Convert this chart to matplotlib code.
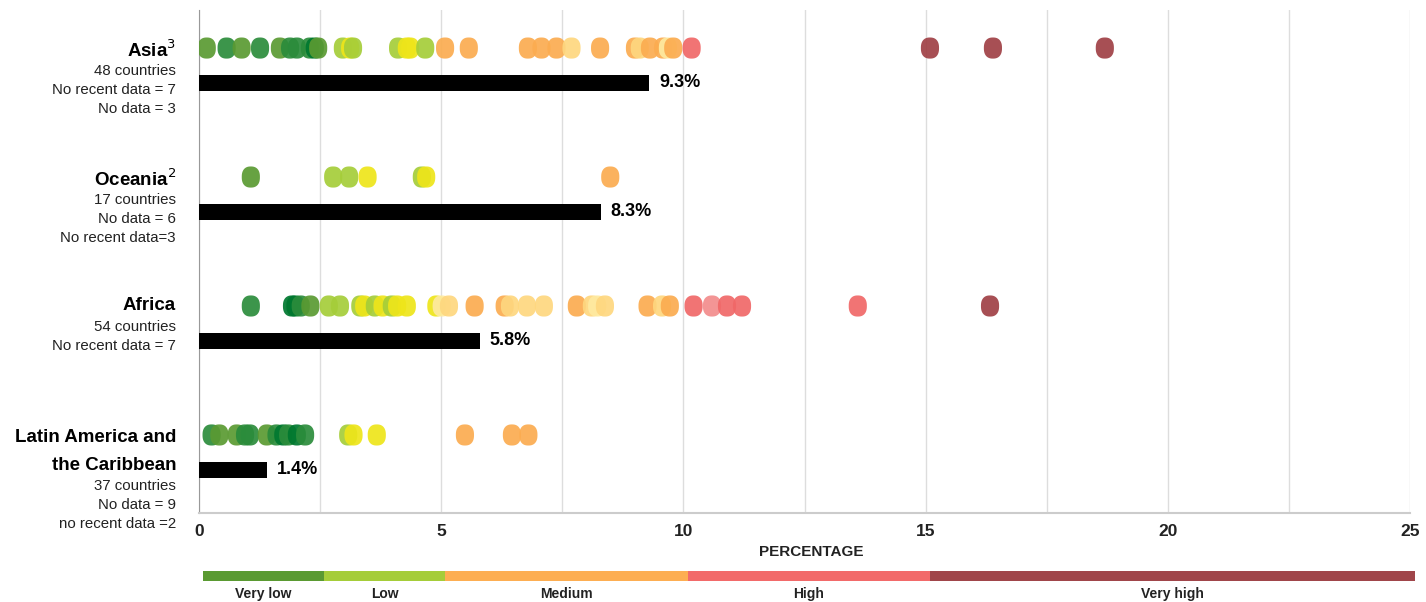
import numpy as np
import matplotlib
matplotlib.use("Agg")
import matplotlib.pyplot as plt
from matplotlib.path import Path

plt.rcParams['font.family'] = ['Liberation Sans', 'DejaVu Sans']

# Kleuren per klasse
kleur = {
    'olive': '#5a9a32', 'forest': '#2b8c3b', 'dkgreen': '#00782f',
    'lgreen': '#a5cd39', 'yellow': '#eee51a', 'orange': '#fbac50',
    'lorange': '#fed77f', 'pale': '#feeaa0', 'red': '#f06868',
    'pink': '#f28c8c', 'dred': '#a04045',
}

regios = ['Asia', 'Oceania', 'Africa', 'Latin America']
gemiddelde = [9.3, 8.3, 5.8, 1.4]

asia_val = [0.16, 0.57, 0.88, 1.26, 1.67, 1.88, 2.02, 2.29, 2.39, 2.46, 2.97, 3.12, 3.18,
            4.11, 4.29, 4.36, 4.67, 5.08, 5.57, 6.79, 7.07, 7.38, 7.69, 8.28, 9.0, 9.1,
            9.31, 9.58, 9.68, 9.79, 10.17, 15.09, 16.39, 18.70]
asia_kl = ['olive', 'forest', 'olive', 'forest', 'olive', 'forest', 'forest', 'forest', 'dkgreen',
           'olive', 'lgreen', 'yellow', 'lgreen', 'lgreen', 'yellow', 'yellow', 'lgreen',
           'orange', 'orange', 'orange', 'orange', 'orange', 'lorange', 'orange', 'orange',
           'lorange', 'orange', 'orange', 'pale', 'orange', 'red', 'dred', 'dred', 'dred']

oceania_val = [1.07, 2.77, 3.10, 3.48, 4.60, 4.69, 8.49]
oceania_kl = ['olive', 'lgreen', 'lgreen', 'yellow', 'lgreen', 'yellow', 'orange']

africa_val = [1.07, 1.92, 1.99, 2.10, 2.30, 2.68, 2.91, 3.33, 3.41, 3.63, 3.79, 3.98, 4.09,
              4.29, 4.90, 5.01, 5.16, 5.69, 6.31, 6.42, 6.77, 7.12, 7.80, 8.11, 8.22, 8.38,
              9.26, 9.56, 9.72, 10.21, 10.59, 10.90, 11.21, 13.6, 16.33]
africa_kl = ['forest', 'dkgreen', 'dkgreen', 'forest', 'olive', 'lgreen', 'lgreen', 'lgreen',
             'yellow', 'lgreen', 'yellow', 'lgreen', 'yellow', 'yellow', 'yellow', 'pale',
             'lorange', 'orange', 'orange', 'lorange', 'lorange', 'lorange', 'orange',
             'lorange', 'pale', 'lorange', 'orange', 'lorange', 'orange', 'red', 'pink',
             'red', 'red', 'red', 'dred']

latam_val = [0.26, 0.42, 0.78, 0.95, 1.05, 1.40, 1.60, 1.74, 1.84, 2.02, 2.19, 3.08, 3.19,
             3.67, 5.49, 6.46, 6.80]
latam_kl = ['forest', 'olive', 'olive', 'forest', 'forest', 'olive', 'forest', 'dkgreen',
            'forest', 'dkgreen', 'forest', 'lgreen', 'yellow', 'yellow', 'orange', 'orange',
            'orange']

alle_val = [asia_val, oceania_val, africa_val, latam_val]
alle_kl = [asia_kl, oceania_kl, africa_kl, latam_kl]

klassen = ['Very low', 'Low', 'Medium', 'High', 'Very high']
klasse_grens = [0, 2.5, 5, 10, 15, 25]
klasse_kleur = ['#5a9a32', '#a5cd39', '#fdae52', '#f26a6a', '#a0454a']

# afgeronde (superellips) marker
t = np.linspace(0, 2 * np.pi, 80)
px = 0.86 * np.sign(np.cos(t)) * np.abs(np.cos(t)) ** (2 / 2.4)
py = np.sign(np.sin(t)) * np.abs(np.sin(t)) ** (2 / 2.4)
ovaal = Path(np.column_stack([px, py]), closed=True)

W, H = 1426, 602
fig = plt.figure(figsize=(W / 100, H / 100), dpi=100)
ax = fig.add_axes([199 / W, 1 - 513 / H, (1410 - 199) / W, (513 - 10) / H])

for i, (vals, kls) in enumerate(zip(alle_val, alle_kl)):
    ax.scatter(vals, [i] * len(vals), marker=ovaal, s=15.2 ** 2,
               c=[kleur[k] for k in kls], alpha=0.92, linewidths=0, zorder=3)
    ax.barh(i + 0.271, gemiddelde[i], height=0.125, color='black', zorder=3)
    ax.text(gemiddelde[i] + 0.2, i + 0.271, f"{gemiddelde[i]}%", va='center', ha='left',
            fontsize=13, fontweight='bold', zorder=4)

ax.set_xlim(0, 25)
ax.set_ylim(3.605, -0.295)
ax.set_yticks([])
ax.set_xticks(np.arange(0, 25.1, 2.5))
ax.set_xticklabels([f"{int(t)}" if t % 5 == 0 else "" for t in np.arange(0, 25.1, 2.5)],
                   fontsize=12.5, fontweight='bold', color='#222222')
ax.tick_params(axis='x', length=0, pad=8)
ax.grid(axis='x', color='#dddddd', linewidth=1, zorder=0)
for s in ['top', 'right']:
    ax.spines[s].set_visible(False)
ax.spines['left'].set_color('#999999')
ax.spines['bottom'].set_color('#cccccc')
ax.spines['bottom'].set_linewidth(1.5)
ax.set_xlabel('PERCENTAGE', fontsize=11, fontweight='bold', color='#222222')
ax.xaxis.set_label_coords((811 - 199) / (1410 - 199), -0.063)

# labels links
def linkslabel(y_titel, titel, regels, extra_titel=None):
    fig.text(176 / W, 1 - y_titel / H, titel, ha='right', va='center',
             fontsize=13.5, fontweight='bold')
    y = y_titel
    if extra_titel:
        y += 27
        fig.text(176 / W, 1 - y / H, extra_titel, ha='right', va='center',
                 fontsize=13.5, fontweight='bold')
    for r in regels:
        y += 19
        fig.text(176 / W, 1 - (y + 2) / H, r, ha='right', va='center',
                 fontsize=10.8, color='#222222')

linkslabel(50, 'Asia$^{3}$', ['48 countries', 'No recent data = 7', 'No data = 3'])
linkslabel(179, 'Oceania$^{2}$', ['17 countries', 'No data = 6', 'No recent data=3'])
linkslabel(306, 'Africa', ['54 countries', 'No recent data = 7'])
linkslabel(438, 'Latin America and', ['37 countries', 'No data = 9', 'no recent data =2'],
           extra_titel='the Caribbean')

# legenda balk
lax = fig.add_axes([203 / W, 1 - 581 / H, (1415 - 203) / W, 10 / H])
for j in range(len(klassen)):
    a, b = klasse_grens[j], klasse_grens[j + 1]
    lax.barh(0, b - a, left=a, height=1, color=klasse_kleur[j])
    lax.text((a + b) / 2, -2.2, klassen[j], ha='center', va='baseline', fontsize=10,
             fontweight='bold', color='#222222')
lax.set_xlim(0, 25)
lax.set_ylim(-0.5, 0.5)
lax.axis('off')

fig.savefig('out.png', dpi=100)
